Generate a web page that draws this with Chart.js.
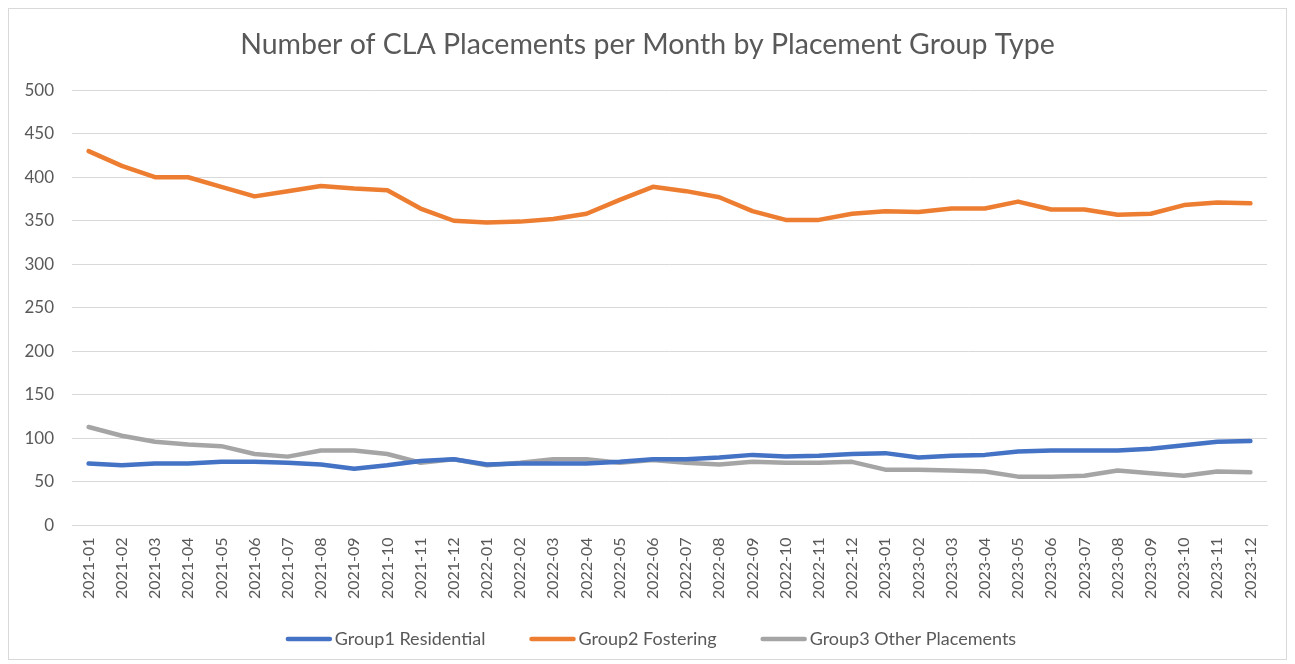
<!DOCTYPE html>
<html>
<head>
<meta charset="utf-8">
<script src="https://cdn.jsdelivr.net/npm/chart.js@4.4.1/dist/chart.umd.min.js"></script>
<style>
  html, body { margin: 0; padding: 0; background: #fff; }
  #wrap { width: 1295px; height: 664px; }
</style>
</head>
<body>
<div id="wrap"><canvas id="placementsChart" width="1295" height="664"></canvas></div>
<script>
// month labels on the x axis
const months = [
  '2021-01','2021-02','2021-03','2021-04','2021-05','2021-06','2021-07','2021-08','2021-09','2021-10','2021-11','2021-12',
  '2022-01','2022-02','2022-03','2022-04','2022-05','2022-06','2022-07','2022-08','2022-09','2022-10','2022-11','2022-12',
  '2023-01','2023-02','2023-03','2023-04','2023-05','2023-06','2023-07','2023-08','2023-09','2023-10','2023-11','2023-12'
];

// values
const residential = [
  71, 69, 71, 71, 73, 73, 72, 70, 65, 69, 74, 76,
  70, 71, 71, 71, 73, 76, 76, 78, 81, 79, 80, 82,
  83, 78, 80, 81, 85, 86, 86, 86, 88, 92, 96, 97
];
const fostering = [
  430, 413, 400, 400, 389, 378, 384, 390, 387, 385, 364, 350,
  348, 349, 352, 358, 374, 389, 384, 377, 361, 351, 351, 358,
  361, 360, 364, 364, 372, 363, 363, 357, 358, 368, 371, 370
];
const otherPlacements = [
  113, 103, 96, 93, 91, 82, 79, 86, 86, 82, 72, 76,
  69, 72, 76, 76, 72, 75, 72, 70, 73, 72, 72, 73,
  64, 64, 63, 62, 56, 56, 57, 63, 60, 57, 62, 61
];

const seriesNames = ['Group1 Residential', 'Group2 Fostering', 'Group3 Other Placements'];
const seriesColors = ['#4472C4', '#ED7D31', '#A5A5A5'];
const yTicks = [0, 50, 100, 150, 200, 250, 300, 350, 400, 450, 500];

const textGray = '#595959';
const fontFamily = 'Lato, "Open Sans", sans-serif';

// white page with the thin grey frame round it
const framePlugin = {
  id: 'frame',
  beforeDraw(chart) {
    let ctx = chart.ctx;
    ctx.save();
    ctx.fillStyle = '#ffffff';
    ctx.fillRect(0, 0, chart.width, chart.height);
    ctx.strokeStyle = '#D9D9D9';
    ctx.lineWidth = 1;
    ctx.strokeRect(8.5, 8.5, 1278, 651);
    ctx.restore();
  }
};

// Excel style legend: short thick line, text right next to it, wide gaps between items
const lineLegendPlugin = {
  id: 'lineLegend',
  afterDraw(chart, args, opts) {
    let ctx = chart.ctx;
    let sets = chart.data.datasets;
    ctx.save();
    ctx.font = opts.fontSize + 'px ' + fontFamily;
    ctx.textBaseline = 'middle';
    ctx.textAlign = 'left';

    let widths = sets.map(ds => opts.lineLength + opts.textGap + ctx.measureText(ds.label).width);
    let total = widths.reduce((a, b) => a + b, 0) + opts.itemGap * (sets.length - 1);
    let x = opts.centerX - total / 2;

    for (let i = 0; i < sets.length; i++) {
      let ds = sets[i];
      ctx.strokeStyle = ds.borderColor;
      ctx.lineWidth = ds.borderWidth;
      ctx.lineCap = 'round';
      ctx.beginPath();
      ctx.moveTo(x, opts.y);
      ctx.lineTo(x + opts.lineLength, opts.y);
      ctx.stroke();

      ctx.fillStyle = textGray;
      ctx.fillText(ds.label, x + opts.lineLength + opts.textGap, opts.y);
      x += widths[i] + opts.itemGap;
    }
    ctx.restore();
  }
};

let datasets = [residential, fostering, otherPlacements].map((vals, i) => {
  return {
    label: seriesNames[i],
    data: vals,
    borderColor: seriesColors[i],
    backgroundColor: seriesColors[i],
    borderWidth: 4.5,
    pointRadius: 0,
    tension: 0,
    borderCapStyle: 'round',
    borderJoinStyle: 'round'
  };
});

let ctx = document.getElementById('placementsChart').getContext('2d');
let chart = new Chart(ctx, {
  type: 'line',
  data: {
    labels: months,
    datasets: datasets
  },
  plugins: [framePlugin, lineLegendPlugin],
  options: {
    responsive: false,
    animation: false,
    layout: {
      padding: { top: 20, left: 0, right: 0, bottom: 53 }
    },
    plugins: {
      title: {
        display: true,
        text: 'Number of CLA Placements per Month by Placement Group Type',
        color: textGray,
        font: { family: fontFamily, size: 28.5, weight: 'normal' },
        padding: { top: 8, bottom: 28 }
      },
      legend: { display: false },
      lineLegend: {
        y: 639,
        centerX: 652,
        fontSize: 18,
        lineLength: 42,
        textGap: 5,
        itemGap: 46
      },
      tooltip: { enabled: false }
    },
    scales: {
      x: {
        offset: true,
        grid: { display: false, drawTicks: false },
        border: { display: true, color: '#D9D9D9' },
        ticks: {
          color: textGray,
          font: { family: fontFamily, size: 16 },
          minRotation: 90,
          maxRotation: 90,
          autoSkip: false,
          padding: 12
        }
      },
      y: {
        min: 0,
        max: 500,
        afterBuildTicks(scale) {
          scale.ticks = yTicks.map(v => ({ value: v }));
        },
        afterFit(scale) {
          scale.width = 72;
        },
        grid: { color: '#D9D9D9', lineWidth: 1, drawTicks: false },
        border: { display: false },
        ticks: {
          color: textGray,
          font: { family: fontFamily, size: 17 },
          padding: 18
        }
      },
      // empty right-hand axis, only keeps the plot clear of the right frame
      yRight: {
        type: 'linear',
        position: 'right',
        afterFit(scale) {
          scale.width = 28;
        },
        grid: { display: false, drawTicks: false },
        border: { display: false },
        ticks: { display: false }
      }
    }
  }
});
</script>
</body>
</html>
